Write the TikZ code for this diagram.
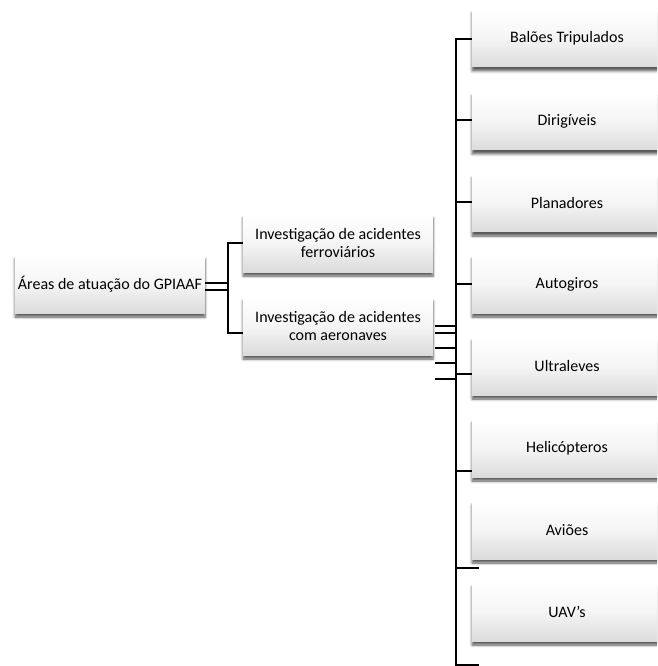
\documentclass[tikz,border=0pt]{standalone}
\usepackage{fontspec}
\setmainfont{Carlito}[Ligatures={ResetAll}]
\usetikzlibrary{shadows.blur}
\tikzset{
  box/.style={rectangle, minimum width=142.5pt, minimum height=43.5pt, inner sep=2pt,
    align=center, font=\fontsize{12pt}{14pt}\selectfont,
    top color=white, bottom color=black!14, middle color=white!96!black,
    blur shadow={shadow xshift=0pt, shadow yshift=-3pt, shadow blur steps=6, shadow opacity=65}},
  conn/.style={line width=1.6pt, black}
}
\begin{document}
\begin{tikzpicture}[x=0.75pt, y=-0.75pt]
\useasboundingbox (0,0) rectangle (657,666);
\clip (0,0) rectangle (657,666);
% boxes
\node[box] (root) at (110,284) {Áreas de atuação do GPIAAF};
\node[box] (fer) at (338,243) {Investigação de acidentes\\ferroviários};
\node[box] (aer) at (338,326) {Investigação de acidentes\\com aeronaves};
\node[box] (r1) at (567,38) {Balões Tripulados};
\node[box] (r2) at (567,121) {Dirigíveis};
\node[box] (r3) at (567,203) {Planadores};
\node[box] (r4) at (567,284) {Autogiros};
\node[box] (r5) at (567,366) {Ultraleves};
\node[box] (r6) at (567,448) {Helicópteros};
\node[box] (r7) at (567,530) {Aviões};
\node[box] (r8) at (567,612) {UAV's};
% first bar
\coordinate (ba) at (228,243);
\coordinate (bb) at (228,333);
\draw[conn] ([yshift=0.75pt]root.east) -- ++(23,0);
\draw[conn] ([yshift=-4.5pt]root.east) -- ++(23,0);
\draw[conn] (fer.west) -- (ba) -- (bb) -- (bb -| aer.west);
% second bar
\coordinate (ca) at (456,39);
\coordinate (cb) at (456,665);
\draw[conn] (r1.west |- ca) -- (ca) -- (cb) -- ++(23,0);
\draw[conn] (456,120) -- (r2.west |- 0,120);
\draw[conn] (456,202) -- (r3.west |- 0,202);
\draw[conn] (456,284) -- (r4.west);
\draw[conn] (456,374) -- (r5.west |- 0,374);
\draw[conn] (456,471) -- (r6.west |- 0,471);
\draw[conn] (456,568) -- ++(23,0);
% stray links from aer
\foreach \yy in {326,333,348,363,379}{
  \draw[conn] (435,\yy) -- (456,\yy);
}
\end{tikzpicture}
\end{document}
